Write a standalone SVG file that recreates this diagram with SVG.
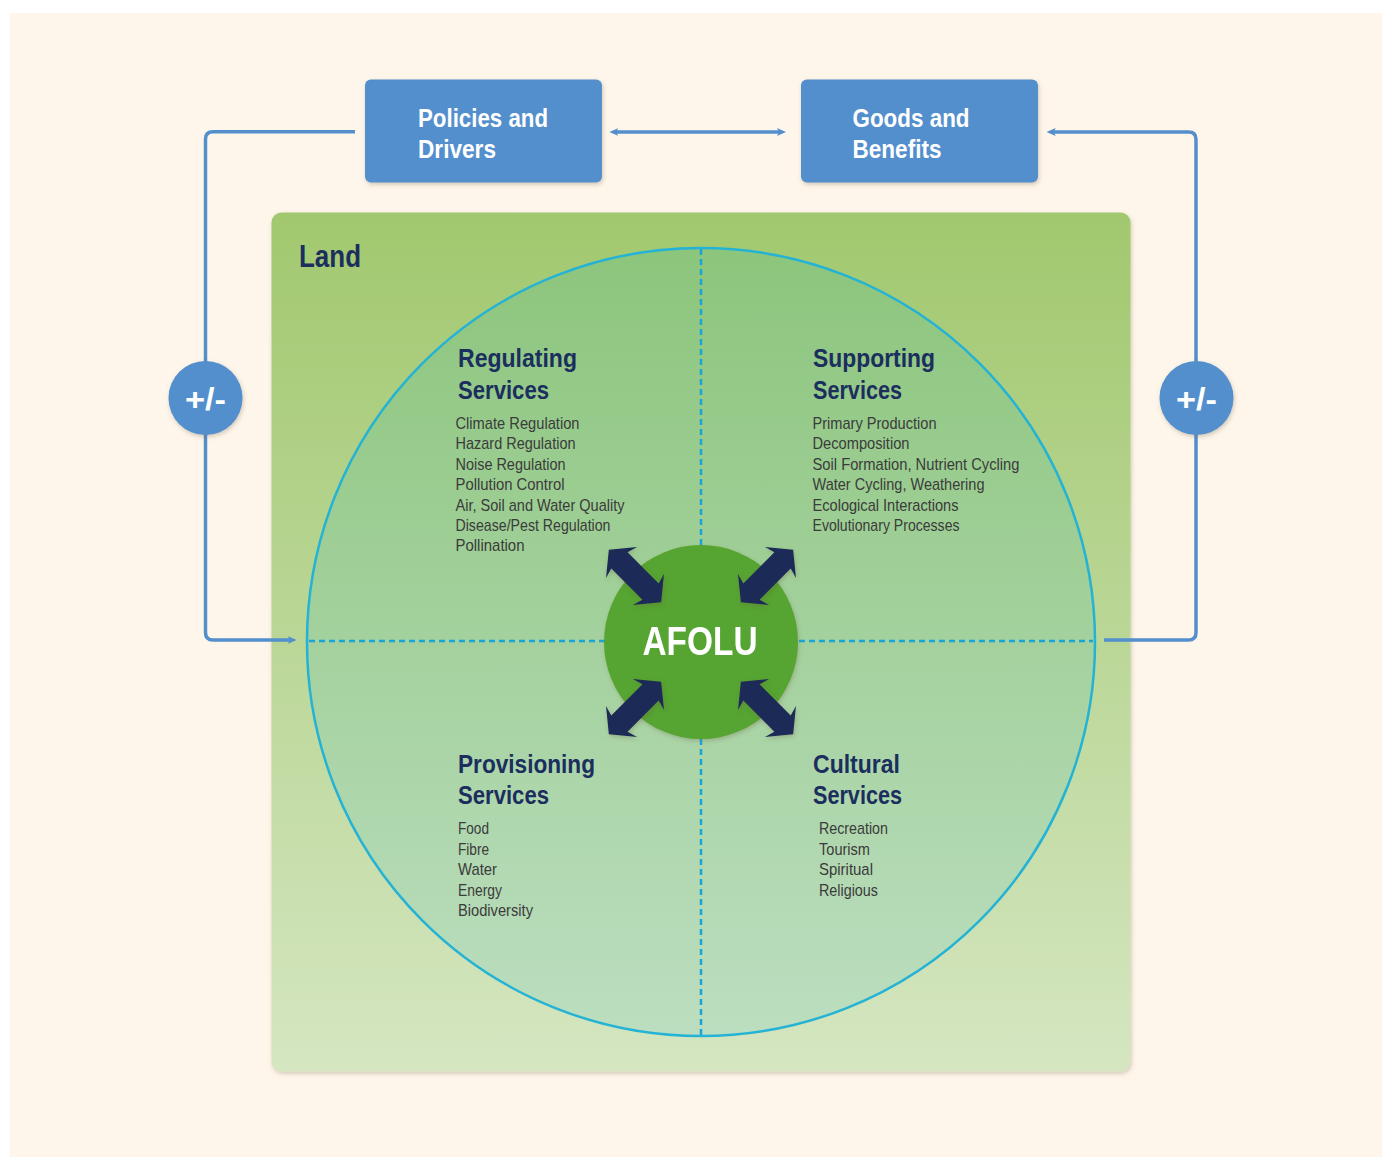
<svg xmlns="http://www.w3.org/2000/svg" width="1382" height="1157" viewBox="0 0 1382 1157">
<defs>
<style>
.t{font-family:'Liberation Sans',Arial,sans-serif;}
.title{font-weight:bold;font-size:25px;fill:#1B2E5E;}
.item{font-size:17px;fill:#3B3B3B;}
.btxt{font-weight:bold;font-size:26px;fill:#FFFFFF;}
.conn{fill:none;stroke:#538FCD;stroke-width:3.5;}
.dash{fill:none;stroke:#1AA5D8;stroke-width:2.5;stroke-dasharray:6 4;}
.box{fill:#538FCD;}
.darrow{fill:#1B2A58;}
</style>
<linearGradient id="landGrad" x1="0" y1="0" x2="0" y2="1">
<stop offset="0" stop-color="#A1C86E"/>
<stop offset="1" stop-color="#D5E6C1"/>
</linearGradient>
<linearGradient id="circGrad" x1="0" y1="0" x2="0" y2="1">
<stop offset="0" stop-color="#8CC57C"/>
<stop offset="1" stop-color="#BCDEC0"/>
</linearGradient>
<filter id="shadow" x="-20%" y="-20%" width="140%" height="140%">
<feDropShadow dx="1" dy="2" stdDeviation="2" flood-color="#6B5A40" flood-opacity="0.3"/>
</filter>
<marker id="ah" viewBox="0 0 9 9" markerWidth="9" markerHeight="9" refX="4" refY="4.5" orient="auto-start-reverse" markerUnits="userSpaceOnUse">
<path d="M0,0.5 L9,4.5 L0,8.5 L2,4.5 z" fill="#538FCD"/>
</marker>
<polygon id="dblArrow" points="-37,0 -19,-22 -22,-11.5 22,-11.5 19,-22 37,0 19,22 22,11.5 -22,11.5 -19,22"/>
</defs>

<rect x="10" y="13" width="1372" height="1144" fill="#FEF6EA"/>

<g id="land">
<rect x="271.5" y="212.5" width="859" height="859" rx="10" fill="url(#landGrad)" filter="url(#shadow)"/>
<text class="t" x="299" y="267" font-weight="bold" font-size="31" fill="#1B2E5E" textLength="62" lengthAdjust="spacingAndGlyphs">Land</text>
</g>

<g id="services-circle">
<circle cx="701" cy="642" r="394" fill="url(#circGrad)" stroke="#25B3D5" stroke-width="2.5"/>
<line class="dash" x1="701" y1="249" x2="701" y2="1035"/>
<line class="dash" x1="309" y1="641" x2="1093" y2="641"/>
</g>

<g id="connectors">
<path class="conn" d="M355,131.7 H213 Q205.5,131.7 205.5,139 V632.5 Q205.5,640 213,640 H291.7" marker-end="url(#ah)"/>
<path class="conn" d="M1104,640 H1188.5 Q1196,640 1196,632.5 V139.5 Q1196,132 1188.5,132 H1051.7" marker-end="url(#ah)"/>
<path class="conn" d="M614.3,132 H781" marker-start="url(#ah)" marker-end="url(#ah)"/>
</g>

<g id="policies-drivers">
<rect class="box" x="365" y="79.5" width="237" height="103" rx="6" filter="url(#shadow)"/>
<text class="t btxt" x="418" y="127" textLength="130" lengthAdjust="spacingAndGlyphs">Policies and</text>
<text class="t btxt" x="418" y="157.5" textLength="78" lengthAdjust="spacingAndGlyphs">Drivers</text>
</g>

<g id="goods-benefits">
<rect class="box" x="801" y="79.5" width="237" height="103" rx="6" filter="url(#shadow)"/>
<text class="t btxt" x="852.5" y="127" textLength="117" lengthAdjust="spacingAndGlyphs">Goods and</text>
<text class="t btxt" x="852.5" y="157.5" textLength="89" lengthAdjust="spacingAndGlyphs">Benefits</text>
</g>

<g id="feedback-left">
<circle cx="205.5" cy="398" r="37" fill="#538FCD" filter="url(#shadow)"/>
<text class="t" x="205.5" y="409.5" text-anchor="middle" font-weight="bold" font-size="31" fill="#FFFFFF" textLength="41" lengthAdjust="spacingAndGlyphs">+/-</text>
</g>

<g id="feedback-right">
<circle cx="1196.5" cy="398" r="37" fill="#538FCD" filter="url(#shadow)"/>
<text class="t" x="1196.5" y="409.5" text-anchor="middle" font-weight="bold" font-size="31" fill="#FFFFFF" textLength="41" lengthAdjust="spacingAndGlyphs">+/-</text>
</g>

<g id="regulating-services">
<text class="t title" x="458" y="366.5" textLength="119" lengthAdjust="spacingAndGlyphs">Regulating</text>
<text class="t title" x="458" y="398.5" textLength="91" lengthAdjust="spacingAndGlyphs">Services</text>
<text class="t item" x="455.5" y="428.5" textLength="124" lengthAdjust="spacingAndGlyphs">Climate Regulation</text>
<text class="t item" x="455.5" y="449" textLength="120" lengthAdjust="spacingAndGlyphs">Hazard Regulation</text>
<text class="t item" x="455.5" y="469.5" textLength="110" lengthAdjust="spacingAndGlyphs">Noise Regulation</text>
<text class="t item" x="455.5" y="490" textLength="109" lengthAdjust="spacingAndGlyphs">Pollution Control</text>
<text class="t item" x="455.5" y="510.5" textLength="169" lengthAdjust="spacingAndGlyphs">Air, Soil and Water Quality</text>
<text class="t item" x="455.5" y="531" textLength="155" lengthAdjust="spacingAndGlyphs">Disease/Pest Regulation</text>
<text class="t item" x="455.5" y="551" textLength="69" lengthAdjust="spacingAndGlyphs">Pollination</text>
</g>

<g id="supporting-services">
<text class="t title" x="813" y="366.5" textLength="122" lengthAdjust="spacingAndGlyphs">Supporting</text>
<text class="t title" x="813" y="398.5" textLength="89" lengthAdjust="spacingAndGlyphs">Services</text>
<text class="t item" x="812.5" y="428.5" textLength="124" lengthAdjust="spacingAndGlyphs">Primary Production</text>
<text class="t item" x="812.5" y="449" textLength="97" lengthAdjust="spacingAndGlyphs">Decomposition</text>
<text class="t item" x="812.5" y="469.5" textLength="207" lengthAdjust="spacingAndGlyphs">Soil Formation, Nutrient Cycling</text>
<text class="t item" x="812.5" y="490" textLength="172" lengthAdjust="spacingAndGlyphs">Water Cycling, Weathering</text>
<text class="t item" x="812.5" y="510.5" textLength="146" lengthAdjust="spacingAndGlyphs">Ecological Interactions</text>
<text class="t item" x="812.5" y="531" textLength="147" lengthAdjust="spacingAndGlyphs">Evolutionary Processes</text>
</g>

<g id="provisioning-services">
<text class="t title" x="458" y="772.5" textLength="137" lengthAdjust="spacingAndGlyphs">Provisioning</text>
<text class="t title" x="458" y="803.5" textLength="91" lengthAdjust="spacingAndGlyphs">Services</text>
<text class="t item" x="458" y="834" textLength="31" lengthAdjust="spacingAndGlyphs">Food</text>
<text class="t item" x="458" y="854.5" textLength="31" lengthAdjust="spacingAndGlyphs">Fibre</text>
<text class="t item" x="458" y="875" textLength="39" lengthAdjust="spacingAndGlyphs">Water</text>
<text class="t item" x="458" y="895.5" textLength="44" lengthAdjust="spacingAndGlyphs">Energy</text>
<text class="t item" x="458" y="916" textLength="75" lengthAdjust="spacingAndGlyphs">Biodiversity</text>
</g>

<g id="cultural-services">
<text class="t title" x="813" y="772.5" textLength="87" lengthAdjust="spacingAndGlyphs">Cultural</text>
<text class="t title" x="813" y="803.5" textLength="89" lengthAdjust="spacingAndGlyphs">Services</text>
<text class="t item" x="819" y="834" textLength="69" lengthAdjust="spacingAndGlyphs">Recreation</text>
<text class="t item" x="819" y="854.5" textLength="51" lengthAdjust="spacingAndGlyphs">Tourism</text>
<text class="t item" x="819" y="875" textLength="54" lengthAdjust="spacingAndGlyphs">Spiritual</text>
<text class="t item" x="819" y="895.5" textLength="59" lengthAdjust="spacingAndGlyphs">Religious</text>
</g>

<g id="afolu">
<circle cx="701" cy="642" r="97" fill="#57A430" filter="url(#shadow)"/>
<g class="darrow" filter="url(#shadow)">
<use href="#dblArrow" transform="translate(635,576) rotate(45)"/>
<use href="#dblArrow" transform="translate(767,576) rotate(-45)"/>
<use href="#dblArrow" transform="translate(635,708) rotate(-45)"/>
<use href="#dblArrow" transform="translate(767,708) rotate(45)"/>
</g>
<text class="t" x="700" y="655" text-anchor="middle" font-weight="bold" font-size="40" fill="#FFFFFF" textLength="115" lengthAdjust="spacingAndGlyphs">AFOLU</text>
</g>
</svg>
